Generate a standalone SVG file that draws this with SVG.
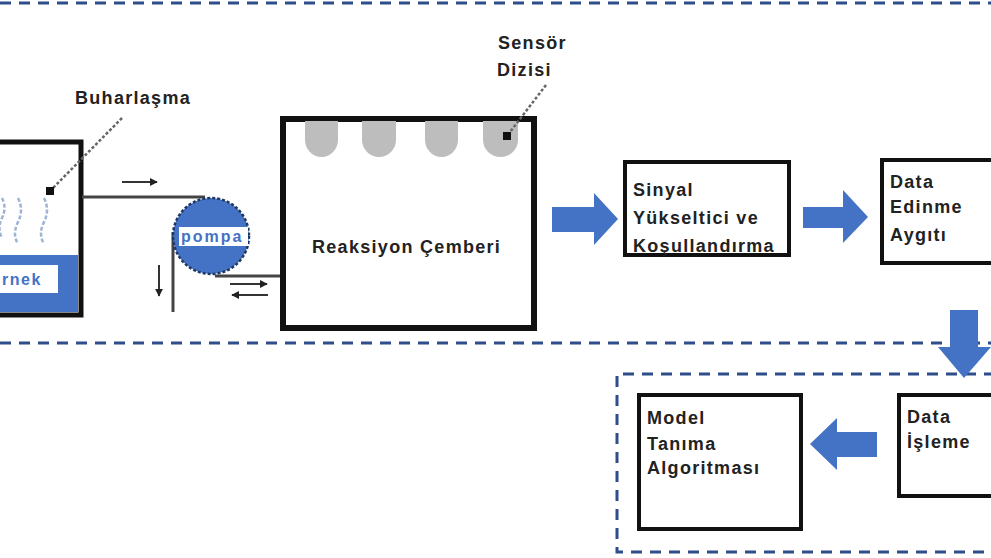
<svg xmlns="http://www.w3.org/2000/svg" width="991" height="558" viewBox="0 0 991 558">
<style>
.lbl{font-family:"Liberation Sans",Arial,sans-serif;font-weight:bold;font-size:18px;letter-spacing:1.3px;fill:#222}
.box{fill:#fff;stroke:#111;stroke-width:4}
.dash{fill:none;stroke:#2f4d8a;stroke-width:3;stroke-dasharray:11 8}
.pipe{fill:none;stroke:#444;stroke-width:3}
.small{fill:none;stroke:#333;stroke-width:2}
.lead{fill:none;stroke:#666;stroke-width:2.5;stroke-dasharray:3 2}
.blue{fill:#4472C4}
.sensor{fill:#bdbdbd}
.vapor{fill:none;stroke:#9fb3d3;stroke-width:2.5;stroke-dasharray:4 2}
</style>
<defs>
<marker id="ah" viewBox="0 0 10 10" refX="9" refY="5" markerWidth="4" markerHeight="4" orient="auto"><path d="M0,0 L10,5 L0,10 z" fill="#222"/></marker>
<marker id="dot" viewBox="0 0 10 10" refX="5" refY="5" markerWidth="3.5" markerHeight="3.5"><rect x="0" y="0" width="10" height="10" fill="#111"/></marker>
</defs>
<rect width="991" height="558" fill="#fff"/>

<g id="boundaries">
<line class="dash" x1="0" y1="3" x2="991" y2="3"/>
<line class="dash" x1="0" y1="343" x2="991" y2="343"/>
<path class="dash" d="M995,374 L617,374 L617,552 L995,552"/>
</g>

<g id="tank">
<rect x="-10" y="142" width="91" height="173" fill="#fff" stroke="#111" stroke-width="5"/>
<rect x="-8" y="255" width="86" height="57" class="blue"/>
<rect x="-8" y="265" width="66" height="28" fill="#fff"/>
<text x="2" y="285" class="lbl" style="fill:#4472C4;font-size:16px;letter-spacing:1.5px">rnek</text>
<path class="vapor" d="M2,198 q5,10 0,20 q-5,10 0,20"/>
<path class="vapor" d="M18,198 q6,12 0,24 q-6,12 0,22"/>
<path class="vapor" d="M44,198 q6,12 0,24 q-6,12 0,22"/>
</g>

<g id="buharlasma">
<text x="75" y="104" class="lbl">Buharlaşma</text>
<line class="lead" x1="122" y1="118" x2="50" y2="191" marker-end="url(#dot)"/>
</g>

<g id="connectors">
<line class="pipe" x1="82" y1="197" x2="205" y2="197"/>
<line class="pipe" x1="173" y1="232" x2="173" y2="312"/>
<line class="pipe" x1="215" y1="276" x2="283" y2="276"/>
<line class="small" x1="122" y1="182" x2="157" y2="182" marker-end="url(#ah)"/>
<line class="small" x1="159" y1="265" x2="159" y2="296" marker-end="url(#ah)"/>
<line class="small" x1="230" y1="284" x2="267" y2="284" marker-end="url(#ah)"/>
<line class="small" x1="268" y1="295" x2="232" y2="295" marker-end="url(#ah)"/>
<path class="blue" d="M552,207 L594,207 L594,193 L618,219 L594,245 L594,232 L552,232 Z"/>
<path class="blue" d="M803,207 L843,207 L843,190 L868,217 L843,243 L843,228 L803,228 Z"/>
<path class="blue" d="M950,310 L978,310 L978,347 L991,347 L964,378 L938,347 L950,347 Z"/>
<path class="blue" d="M877,432 L837,432 L837,418 L810,444 L837,470 L837,457 L877,457 Z"/>
</g>

<g id="pompa">
<circle cx="211" cy="236" r="38" class="blue" stroke="#1f3864" stroke-width="2.5" stroke-dasharray="3 2"/>
<rect x="179" y="227" width="69" height="19" fill="#fff"/>
<text x="181" y="242" class="lbl" style="fill:#4472C4;font-size:16px;letter-spacing:2px">pompa</text>
</g>

<g id="reaksiyon">
<rect x="283" y="119" width="251" height="209" fill="#fff" stroke="#111" stroke-width="6"/>
<path class="sensor" d="M305,121 h33 v19 a16.5,17 0 0 1 -33,0 z"/>
<path class="sensor" d="M362,121 h34 v19 a17,17 0 0 1 -34,0 z"/>
<path class="sensor" d="M425,121 h33 v19 a16.5,17 0 0 1 -33,0 z"/>
<path class="sensor" d="M483,121 h35 v19 a17.5,17 0 0 1 -35,0 z"/>
<text x="312" y="253" class="lbl">Reaksiyon Çemberi</text>
</g>

<g id="sensor-dizisi">
<text x="498" y="49" class="lbl">Sensör</text>
<text x="497" y="76" class="lbl">Dizisi</text>
<line class="lead" x1="546" y1="85" x2="507" y2="136" marker-end="url(#dot)"/>
</g>

<g id="sinyal">
<rect x="625" y="162" width="164" height="93" class="box"/>
<text class="lbl"><tspan x="633" y="196">Sinyal</tspan><tspan x="633" y="224">Yükseltici ve</tspan><tspan x="633" y="252">Koşullandırma</tspan></text>
</g>

<g id="data-edinme">
<rect x="882" y="160" width="120" height="103" class="box"/>
<text class="lbl"><tspan x="890" y="188">Data</tspan><tspan x="890" y="213">Edinme</tspan><tspan x="890" y="241">Aygıtı</tspan></text>
</g>

<g id="model">
<rect x="639" y="395" width="162" height="134" class="box"/>
<text class="lbl"><tspan x="647" y="424">Model</tspan><tspan x="647" y="450">Tanıma</tspan><tspan x="647" y="474">Algoritması</tspan></text>
</g>

<g id="data-isleme">
<rect x="899" y="395" width="110" height="101" class="box"/>
<text class="lbl"><tspan x="907" y="423">Data</tspan><tspan x="907" y="448">İşleme</tspan></text>
</g>
</svg>
